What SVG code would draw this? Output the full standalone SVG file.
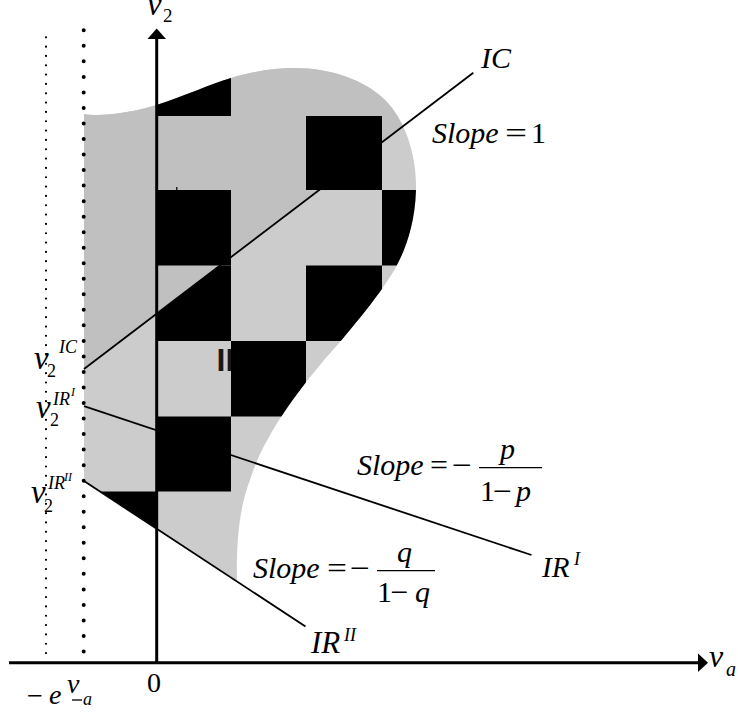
<svg xmlns="http://www.w3.org/2000/svg" width="738" height="713" viewBox="0 0 738 713">
<style>
.it{font-family:"Liberation Serif","Times New Roman",serif;font-style:italic;fill:#000}
.rm{font-family:"Liberation Serif","Times New Roman",serif;fill:#000}
.ln{stroke:#000;stroke-width:1.8;fill:none}
.ax{stroke:#000;stroke-width:3;fill:none}
.bar{stroke:#000;stroke-width:1.3}
.blk{fill:#000}
.dot{stroke:#000;stroke-linecap:round;fill:none}
</style>
<defs>
<clipPath id="shapeClip">
<path d="M84,114 C100,117 130,113 156.5,105 C185,96 210,84 231,78 C255,71 275,68 295,68 C330,68 365,80 385,100 C405,120 417,155 416,190 C415,225 405,250 397,265 C385,288 360,318 340,342 C295,392 262,440 250,480 C240,505 236,540 237,581.5 L84,481 Z"/>
</clipPath>
</defs>

<g id="region">
<path fill="#cccccc" d="M84,114 C100,117 130,113 156.5,105 C185,96 210,84 231,78 C255,71 275,68 295,68 C330,68 365,80 385,100 C405,120 417,155 416,190 C415,225 405,250 397,265 C385,288 360,318 340,342 C295,392 262,440 250,480 C240,505 236,540 237,581.5 L84,481 Z"/>
<polygon fill="#c0c0c0" clip-path="url(#shapeClip)" points="84,369 571,-1 84,-1"/>
<text x="216.5" y="371" font-family="Liberation Sans, Arial, sans-serif" font-weight="bold" font-size="32" fill="#1a1a1a">II</text>
<rect x="176.2" y="187" width="1.2" height="3.5" fill="#000"/>
<g clip-path="url(#shapeClip)">
<rect class="blk" x="156.5" y="40" width="74.5" height="76"/>
<rect class="blk" x="306" y="116" width="76" height="74"/>
<rect class="blk" x="156.5" y="190" width="74.5" height="75.5"/>
<rect class="blk" x="382" y="190" width="75" height="75.5"/>
<polygon class="blk" points="156.5,313.9 220.7,265.5 231,265.5 231,341 156.5,341"/>
<rect class="blk" x="306" y="265.5" width="76" height="75.5"/>
<rect class="blk" x="231" y="341" width="75" height="75.5"/>
<rect class="blk" x="156.5" y="416.5" width="74.5" height="75"/>
<polygon class="blk" points="99.3,491.5 158,491.5 158,529.6"/>
</g>
</g>

<g id="guides">
<line class="dot" x1="83.7" y1="30.3" x2="83.7" y2="653" stroke-width="4" stroke-dasharray="0 15.53"/>
<line class="dot" x1="46" y1="37.3" x2="46" y2="655" stroke-width="2.2" stroke-dasharray="0 9.33"/>
</g>

<g id="axes">
<line class="ax" x1="156.7" y1="37" x2="156.7" y2="664"/>
<polygon class="blk" points="156.7,28.5 147.5,39 166,39"/>
<line class="ax" x1="9" y1="662.7" x2="699" y2="662.7"/>
<polygon class="blk" points="708,662.7 698,653.5 698,672"/>
</g>

<g id="connectors">
<line id="IC-line" class="ln" x1="84" y1="369" x2="473.3" y2="72.7"/>
<line id="IRI-line" class="ln" x1="84" y1="406.2" x2="531.5" y2="555"/>
<line id="IRII-line" class="ln" x1="84" y1="481" x2="305.5" y2="626.5"/>
</g>

<g id="label-v2-axis">
<text class="it" x="147" y="15" font-size="33">v</text>
<text class="rm" x="163" y="22" font-size="19">2</text>
</g>
<g id="label-va-axis">
<text class="it" x="709" y="667" font-size="32">v</text>
<text class="it" x="726" y="676" font-size="20">a</text>
</g>
<g id="label-zero">
<text class="rm" x="147" y="692" font-size="28">0</text>
</g>
<g id="label-minus-e-va">
<text class="rm" x="27" y="705" font-size="28" textLength="16" lengthAdjust="spacingAndGlyphs">−</text>
<text class="it" x="49" y="704" font-size="28">e</text>
<text class="it" x="67" y="693" font-size="28">v</text>
<line class="bar" x1="72" y1="700" x2="82" y2="700"/>
<text class="it" x="83" y="705" font-size="18">a</text>
</g>

<g id="label-IC">
<text class="it" x="481" y="68" font-size="30">IC</text>
</g>
<g id="label-slope1">
<text class="it" x="432" y="143" font-size="30">Slope</text>
<text class="rm" x="505" y="143" font-size="30" textLength="22" lengthAdjust="spacingAndGlyphs">=</text>
<text class="rm" x="531" y="143" font-size="30">1</text>
</g>

<g id="label-v2IC">
<text class="it" x="34" y="369" font-size="33">v</text>
<text class="rm" x="47" y="377" font-size="18">2</text>
<text class="it" x="59" y="353" font-size="18">IC</text>
</g>
<g id="label-v2IRI">
<text class="it" x="36" y="418" font-size="33">v</text>
<text class="rm" x="50" y="426" font-size="18">2</text>
<text class="it" x="53" y="405" font-size="18">IR</text>
<text class="it" x="71" y="396" font-size="12">I</text>
</g>
<g id="label-v2IRII">
<text class="it" x="31" y="503" font-size="33">v</text>
<text class="rm" x="44" y="512" font-size="18">2</text>
<text class="it" x="48" y="489" font-size="18">IR</text>
<text class="it" x="64" y="481" font-size="12">II</text>
</g>

<g id="label-slope-p">
<text class="it" x="357" y="475" font-size="30">Slope</text>
<text class="rm" x="430" y="475" font-size="30" textLength="18" lengthAdjust="spacingAndGlyphs">=</text>
<text class="rm" x="452" y="475" font-size="30" textLength="20" lengthAdjust="spacingAndGlyphs">−</text>
<line class="bar" x1="479" y1="467.7" x2="542" y2="467.7"/>
<text class="it" x="500" y="459" font-size="30">p</text>
<text class="rm" x="480" y="501" font-size="30">1</text>
<text class="rm" x="493" y="501" font-size="30" textLength="19" lengthAdjust="spacingAndGlyphs">−</text>
<text class="it" x="516" y="501" font-size="30">p</text>
</g>

<g id="label-slope-q">
<text class="it" x="253" y="578" font-size="30">Slope</text>
<text class="rm" x="327" y="578" font-size="30" textLength="20" lengthAdjust="spacingAndGlyphs">=</text>
<text class="rm" x="350" y="578" font-size="30" textLength="20" lengthAdjust="spacingAndGlyphs">−</text>
<line class="bar" x1="377" y1="570.7" x2="435" y2="570.7"/>
<text class="it" x="397" y="562" font-size="30">q</text>
<text class="rm" x="377" y="601.5" font-size="30">1</text>
<text class="rm" x="390.5" y="601.5" font-size="30" textLength="18" lengthAdjust="spacingAndGlyphs">−</text>
<text class="it" x="415" y="601.5" font-size="30">q</text>
</g>

<g id="label-IRI">
<text class="it" x="542" y="577" font-size="29">IR</text>
<text class="it" x="574" y="565" font-size="18">I</text>
</g>
<g id="label-IRII">
<text class="it" x="311" y="653" font-size="31">IR</text>
<text class="it" x="344" y="641" font-size="18">II</text>
</g>
</svg>
